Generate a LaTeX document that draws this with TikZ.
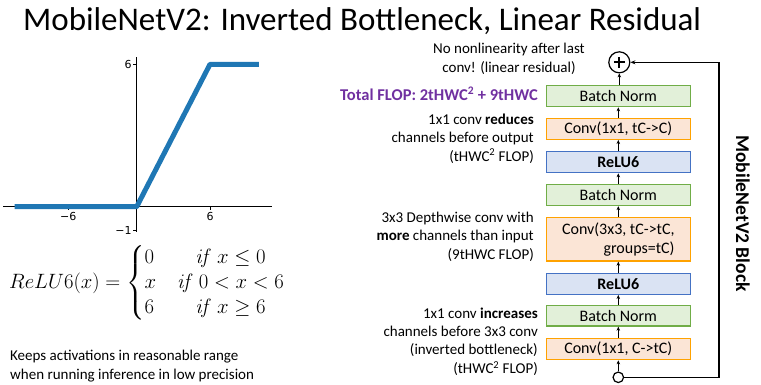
\documentclass[tikz,border=0pt]{standalone}
\usepackage{amsmath}
\usepackage[no-math]{fontspec}
\setmainfont{Carlito}
\newfontfamily\plotfont{DejaVu Sans}
\usetikzlibrary{arrows.meta}
\definecolor{gfill}{HTML}{E2F0D9}
\definecolor{gline}{HTML}{70AD47}
\definecolor{ofill}{HTML}{FBE5D6}
\definecolor{oline}{HTML}{FFA200}
\definecolor{bfill}{HTML}{DAE3F3}
\definecolor{bline}{HTML}{4472C4}
\definecolor{flopc}{HTML}{7030A0}
\definecolor{plotblue}{RGB}{31,119,180}
\tikzset{
  blk/.style={draw, line width=1.3pt, minimum width=144pt, minimum height=21pt, inner sep=0pt,
    font=\fontsize{16}{19}\selectfont},
  bnbox/.style={blk, fill=gfill, draw=gline},
  convbox/.style={blk, fill=ofill, draw=oline},
  relubox/.style={blk, fill=bfill, draw=bline, font=\bfseries\fontsize{16}{19}\selectfont},
  arr/.style={-{Stealth[length=4pt,width=3.5pt]}, line width=0.9pt},
  note/.style={font=\fontsize{15}{18.4}\selectfont, inner sep=0pt},
  ticklab/.style={font=\plotfont\fontsize{11}{13}\selectfont, inner sep=0.3pt},
}
\begin{document}
\begin{tikzpicture}[x=1pt,y=-1pt]
\useasboundingbox (0,0) rectangle (761,384);
% title
\node[anchor=base west, inner sep=0pt, font=\fontsize{33}{40}\selectfont] (title) at (23,30) {MobileNetV2: Inverted Bottleneck, Linear Residual};
% plot
\draw[line width=0.8pt] (136.7,231.7) -- (136.7,56.7);
\draw[line width=0.8pt] (3,206.7) -- (271.7,206.7);
\draw[line width=0.8pt] (136.7,64.3) -- (133.2,64.3);
\draw[line width=0.8pt] (136.7,230.4) -- (133.2,230.4);
\draw[line width=0.8pt] (68.3,206.7) -- (68.3,210.2);
\draw[line width=0.8pt] (210,206.7) -- (210,210.2);
\node[ticklab, anchor=east] (ty6) at (132,64.3) {6};
\node[ticklab, anchor=east] (tym1) at (132,230.4) {−1};
\node[ticklab, anchor=north] (txm6) at (68.3,211.5) {−6};
\node[ticklab, anchor=north] (tx6) at (210,211.5) {6};
\draw[plotblue, line width=5pt, line join=round] (14.5,206.7) -- (136.7,206.7) -- (210,64.3) -- (258.9,64.3);
% equation
\node[anchor=west, inner sep=0pt, font=\fontsize{21}{25}\selectfont] (eq) at (9,283)
  {$ReLU6(x)=\left\{\begin{array}{@{}l@{\quad}c@{}} 0 & \mathit{if}\ x\le 0\\ x & \mathit{if}\ 0<x<6\\ 6 & \mathit{if}\ x\ge 6\end{array}\right.$};
\node[note, anchor=west, align=left] (keeps) at (10,366) {Keeps activations in reasonable range\\when running inference in low precision};
% block
\node[convbox] (conv1) at (618.3,349.2) {Conv(1x1, C->tC)};
\node[bnbox, minimum height=20.3pt] (bn1) at (618.3,315.9) {Batch Norm};
\node[relubox] (relu1) at (618.3,283.8) {ReLU6};
\node[convbox, minimum height=43.7pt, align=right] (conv2) at (618.3,239.2) {Conv(3x3, tC->tC,\\groups=tC)};
\node[bnbox] (bn2) at (618.3,195) {Batch Norm};
\node[relubox] (relu2) at (618.3,162.2) {ReLU6};
\node[convbox] (conv3) at (618.3,128.8) {Conv(1x1, tC->C)};
\node[bnbox] (bn3) at (618.3,96.2) {Batch Norm};
\node[draw, circle, line width=1.2pt, minimum size=21pt, inner sep=0pt] (plus) at (619.3,62.3) {};
\draw[line width=2.3pt] ([xshift=-5.5pt]plus.center) -- ([xshift=5.5pt]plus.center);
\draw[line width=2.3pt] ([yshift=-5.5pt]plus.center) -- ([yshift=5.5pt]plus.center);
\node[draw, circle, line width=1.2pt, fill=white, minimum size=10.5pt, inner sep=0pt] (in) at (618.3,377.3) {};
\draw[arr] (in) -- (conv1);
\draw[arr] (conv1) -- (bn1);
\draw[arr] (bn1) -- (relu1);
\draw[arr] (relu1) -- (conv2);
\draw[arr] (conv2) -- (bn2);
\draw[arr] (bn2) -- (relu2);
\draw[arr] (relu2) -- (conv3);
\draw[arr] (conv3) -- (bn3);
\draw[arr] (bn3.north -| plus) -- (plus);
\coordinate (rb) at (719,377.3);
\coordinate (rt) at (719,62.3);
\draw[line width=1.5pt, -{Stealth[length=5pt,width=4pt]}] (in) -- (rb) -- (rt) -- (plus);
\node[rotate=-90, font=\bfseries\fontsize{19.5}{23}\selectfont, inner sep=0pt] (blocklab) at (743,213.5) {MobileNetV2 Block};
% annotations
\node[note, align=center] (nolin) at (509,59) {No nonlinearity after last\\conv! (linear residual)};
\node[note, anchor=east, text=flopc, font=\bfseries\fontsize{16.5}{19}\selectfont] (flop) at (538,94) {Total FLOP: 2tHWC\textsuperscript{2} + 9tHWC};
\node[note, anchor=east, align=right] (n3) at (534,138.5) {1x1 conv \textbf{reduces}\\channels before output\\(tHWC\textsuperscript{2} FLOP)};
\node[note, anchor=east, align=right] (n2) at (534,236.5) {3x3 Depthwise conv with\\\textbf{more} channels than input\\(9tHWC FLOP)};
\node[note, anchor=east, align=right] (n1) at (538,341.5) {1x1 conv \textbf{increases}\\channels before 3x3 conv\\(inverted bottleneck)\\(tHWC\textsuperscript{2} FLOP)};
\end{tikzpicture}
\end{document}
